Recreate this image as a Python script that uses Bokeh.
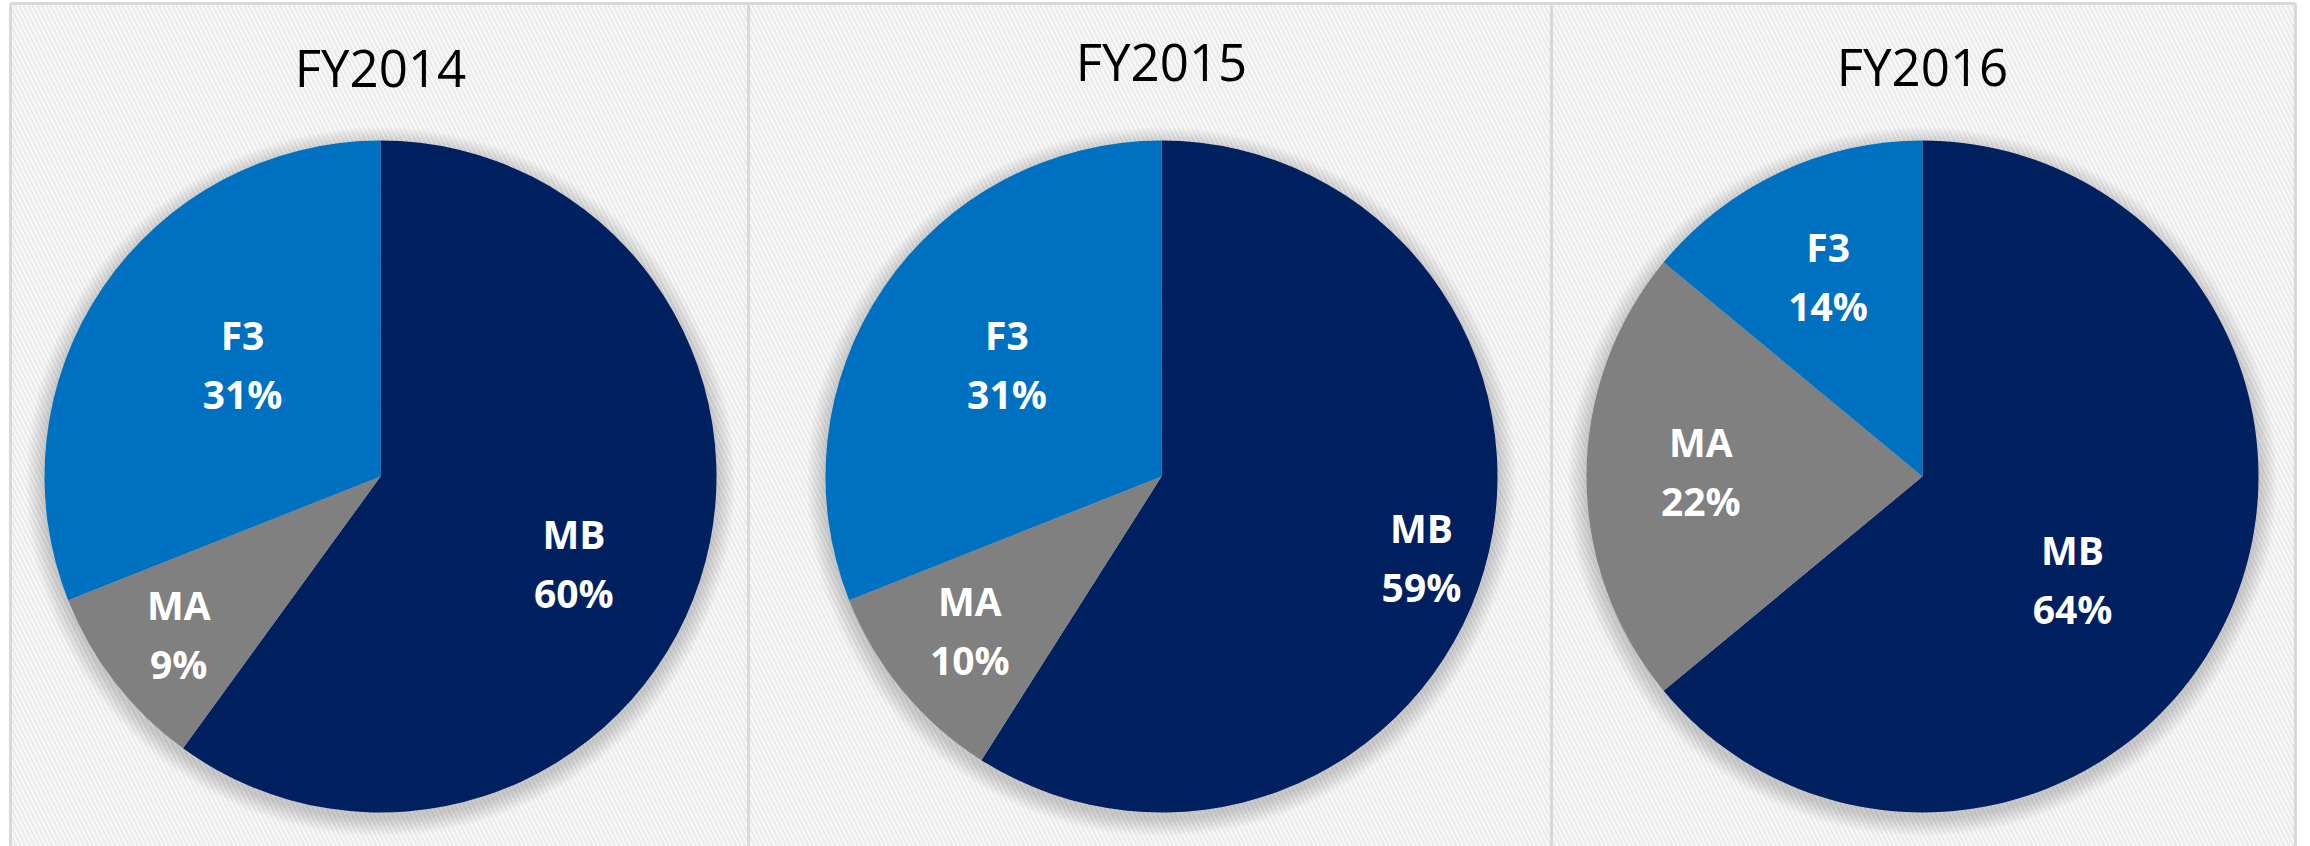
import math
from bokeh.plotting import figure
from bokeh.models import Range1d, ColumnDataSource
from bokeh.core.properties import value
from bokeh.embed import file_html
from bokeh.resources import INLINE

# ---- data ----
years = ["FY2014", "FY2015", "FY2016"]
categories = ["MB", "MA", "F3"]
shares_fy2014 = [60, 9, 31]
shares_fy2015 = [59, 10, 31]
shares_fy2016 = [64, 22, 14]
all_shares = [shares_fy2014, shares_fy2015, shares_fy2016]

# ---- style / layout ----
colors = ["#002060", "#808080", "#0070C0"]
W, H = 2310, 846
centers_x = [380, 1161, 1922]
center_y = 476
radius = 336
title_y = [66, 60, 65]
panel_edges = [10, 748, 1551, 2295]
panel_top = 3
# label placement (fraction of radius, angle nudge in degrees) per pie / slice
label_rfrac = [[0.63, 0.76, 0.53], [0.81, 0.73, 0.57], [0.54, 0.66, 0.66]]
label_nudge = [[-6, 0, -5], [-1, -1, -2], [-9, -1.5, 0]]

p = figure(width=W, height=H, output_backend="svg", toolbar_location=None,
           x_range=Range1d(0, W), y_range=Range1d(-H, 0),
           min_border=0, outline_line_color=None, background_fill_color="white")
p.axis.visible = False
p.grid.visible = False

# striped background
p.quad(left=[panel_edges[0]], right=[panel_edges[-1]], bottom=[-H], top=[-panel_top],
       fill_color="white", line_color=None,
       hatch_pattern="\\", hatch_color="#ececec", hatch_scale=9, hatch_weight=3)

# panel borders
for xe in panel_edges:
    p.segment(x0=[xe], y0=[-H], x1=[xe], y1=[-panel_top], line_color="#d9d9d9", line_width=3)
p.segment(x0=[panel_edges[0]], y0=[-panel_top], x1=[panel_edges[-1]], y1=[-panel_top],
          line_color="#d9d9d9", line_width=3)

for k, shares in enumerate(all_shares):
    cx = centers_x[k]
    cy = -center_y
    # soft shadow
    for d in range(2, 20, 2):
        p.circle(x=[cx], y=[cy - 5], radius=radius + d, fill_color="#000000",
                 fill_alpha=0.018, line_color=None)
    total = float(sum(shares))
    cum = 0.0
    starts, ends, lx, ly, names, pcts = [], [], [], [], [], []
    for i, v in enumerate(shares):
        c0 = cum / total
        cum += v
        c1 = cum / total
        starts.append(math.pi / 2 - 2 * math.pi * c1)
        ends.append(math.pi / 2 - 2 * math.pi * c0)
        mid = math.pi / 2 - 2 * math.pi * (c0 + c1) / 2 + math.radians(label_nudge[k][i])
        r = radius * label_rfrac[k][i]
        lx.append(cx + r * math.cos(mid))
        ly.append(cy + r * math.sin(mid))
        names.append(categories[i])
        pcts.append(f"{v}%")
    src = ColumnDataSource(dict(x=[cx] * 3, y=[cy] * 3, s=starts, e=ends, c=colors,
                                lx=lx, ly=ly, n=names, pc=pcts))
    p.wedge(x="x", y="y", radius=radius, start_angle="s", end_angle="e",
            fill_color="c", line_color=None, source=src)
    p.text(x="lx", y="ly", text="n", source=src, text_color="white",
           text_font=value("Open Sans"), text_font_style="bold", text_font_size="39px",
           text_align="center", text_baseline="middle", y_offset=-29)
    p.text(x="lx", y="ly", text="pc", source=src, text_color="white",
           text_font=value("Open Sans"), text_font_style="bold", text_font_size="39px",
           text_align="center", text_baseline="middle", y_offset=30)
    p.text(x=[cx], y=[-title_y[k]], text=[years[k]], text_color="#000000",
           text_font=value("Open Sans"), text_font_size="51px",
           text_align="center", text_baseline="middle")

open("out.html", "w").write(file_html(p, INLINE))
